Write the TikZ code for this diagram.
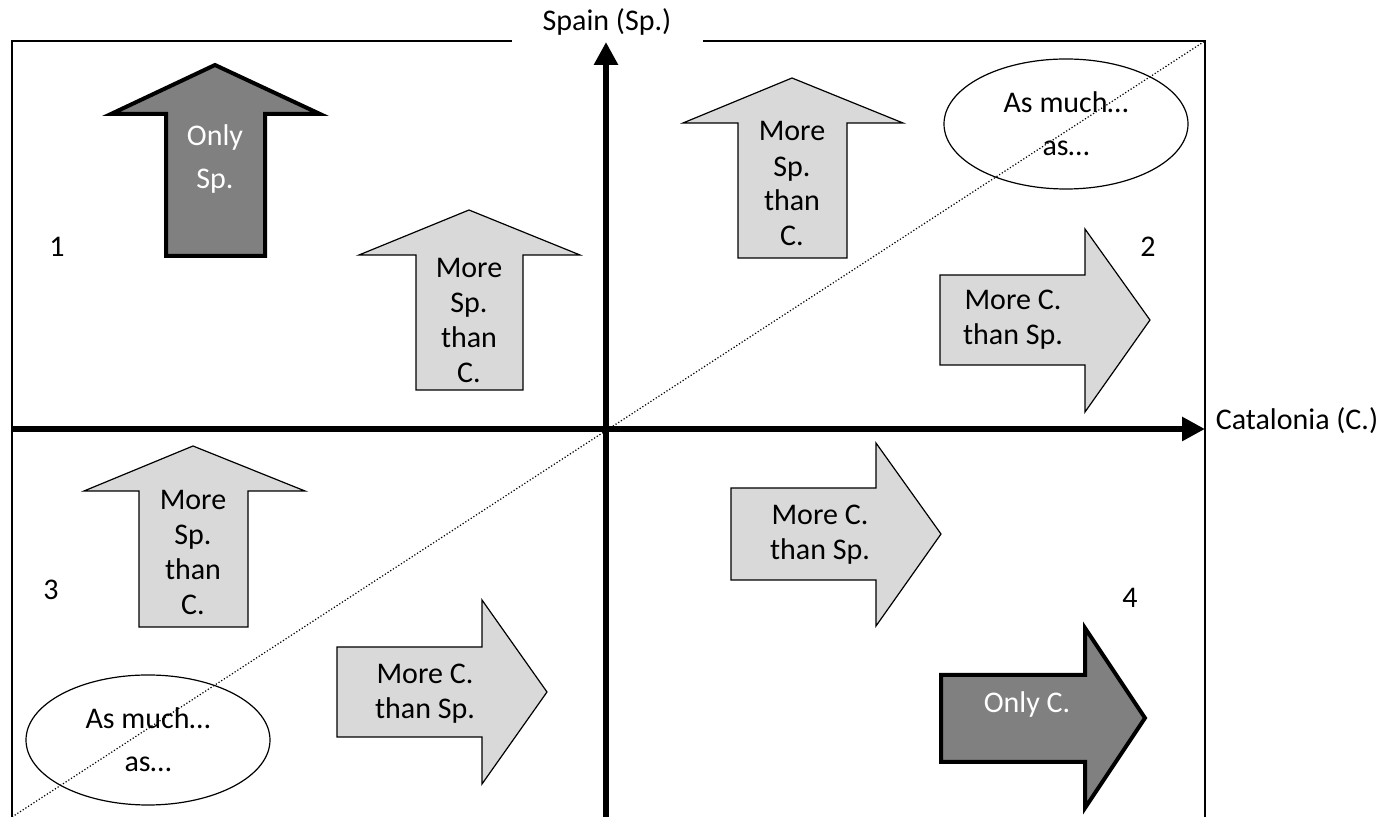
\documentclass[tikz,border=0pt]{standalone}
\usepackage{fontspec}
\setmainfont{Carlito}
\usepackage{tikz}
\usetikzlibrary{arrows.meta,positioning,shapes.geometric}
\tikzset{font=\fontsize{15}{17.5}\selectfont}
\definecolor{lightgr}{HTML}{D9D9D9}
\definecolor{darkgr}{HTML}{808080}
\tikzstyle{lightarr}=[draw=black,fill=lightgr,line width=0.6pt,line join=miter]
\tikzstyle{darkarr}=[draw=black,fill=darkgr,line width=2pt,line join=miter]
\tikzstyle{axis}=[line width=3pt,-{Triangle[length=11.5pt,width=11.5pt]}]
\tikzstyle{frame}=[line width=0.8pt]
\tikzstyle{diag}=[line width=0.6pt,densely dotted]
\tikzstyle{txt}=[align=center,inner sep=0pt]
\tikzstyle{bubble}=[ellipse,draw,line width=0.6pt,inner sep=0pt,align=center,minimum width=122pt,minimum height=65pt]

\begin{document}
\begin{tikzpicture}[x=0.5pt,y=-0.5pt]
\useasboundingbox (0,0) rectangle (1389,817);
\coordinate (tl) at (12,41);
\coordinate (tr) at (1205,41);
\coordinate (bl) at (12,820);
\coordinate (br) at (1205,820);
\coordinate (gapL) at (512,41);
\coordinate (gapR) at (703,41);
\coordinate (dstart) at (12,817);
\coordinate (ybot) at (606,820);
\coordinate (ytop) at (606,42);
\coordinate (xleft) at (12,429);
\coordinate (xright) at (1205,429);

\draw[frame] (gapL) -- (tl) -- (bl);
\draw[frame] (gapR) -- (tr) -- (br);
\draw[diag] (dstart) -- (tr);

\draw[lightarr] (469,210) -- (580,255) -- (523,255) -- (523,390) -- (416,390) -- (416,255) -- (359,255) -- cycle;
\draw[lightarr] (792,78) -- (903,123) -- (847,123) -- (847,258) -- (738,258) -- (738,123) -- (683,123) -- cycle;
\draw[lightarr] (193,446) -- (305,491) -- (248,491) -- (248,627) -- (139,627) -- (139,491) -- (84,491) -- cycle;
\draw[lightarr] (1150,320) -- (1085,412) -- (1085,365) -- (940,365) -- (940,275) -- (1085,275) -- (1085,229) -- cycle;
\draw[lightarr] (547,692) -- (482,784) -- (482,737) -- (337,737) -- (337,647) -- (482,647) -- (482,600) -- cycle;
\draw[lightarr] (941,534) -- (876,626) -- (876,580) -- (731,580) -- (731,488) -- (876,488) -- (876,443) -- cycle;
\draw[darkarr] (215,65) -- (320,114) -- (265,114) -- (265,256) -- (166,256) -- (166,114) -- (111,114) -- cycle;
\draw[darkarr] (1145,718) -- (1085,808) -- (1085,762) -- (941,762) -- (941,675) -- (1085,675) -- (1085,628) -- cycle;

\draw[axis] (xleft) -- (xright);
\draw[axis] (ybot) -- (ytop);

\node (spain) at (607,22) {Spain (Sp.)};
\node (catal) at (1297,421) {Catalonia (C.)};

\node[txt,text=white] (onlysp) at (215,159) {Only\\[4pt]Sp.};
\node[txt] (msp1) at (469,320) {More\\Sp.\\than\\C.};
\node[txt] (msp2) at (792,184) {More\\Sp.\\than\\C.};
\node[txt] (msp3) at (193,552) {More\\Sp.\\than\\C.};
\node[txt] (mc2) at (1013,320) {More C.\\than Sp.};
\node[txt] (mc3) at (425,694) {More C.\\than Sp.};
\node[txt] (mc4) at (820,535) {More C.\\than Sp.};
\node[txt,text=white] (onlyc) at (1027,705) {Only C.};

\node[bubble] (eq2) at (1066,124) {As much…\\[4pt]as…};
\node[bubble] (eq3) at (148,740) {As much…\\[4pt]as…};

\node (q1) at (57,247) {1};
\node (q2) at (1148,247) {2};
\node (q3) at (51,590) {3};
\node (q4) at (1130,598) {4};
\end{tikzpicture}
\end{document}
